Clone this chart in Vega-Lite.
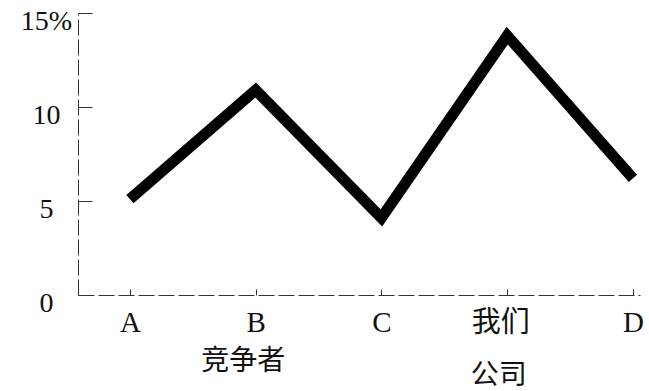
{
  "$schema": "https://vega.github.io/schema/vega-lite/v6.json",
  "width": 562,
  "height": 282,
  "autosize": {"type": "none"},
  "padding": {"left": 78, "top": 13, "right": 9, "bottom": 96},
  "background": "white",
  "config": {"view": {"stroke": null}},
  "data": {
    "values": [
      {"company": "A", "share": 5.1},
      {"company": "B", "share": 10.9},
      {"company": "C", "share": 4.1},
      {"company": "我们", "share": 13.8},
      {"company": "D", "share": 6.2}
    ]
  },
  "layer": [
    {
      "mark": {"type": "line", "color": "black", "strokeWidth": 11, "strokeJoin": "miter", "strokeCap": "butt"},
      "encoding": {
        "x": {
          "field": "company",
          "type": "ordinal",
          "sort": null,
          "scale": {"type": "point", "padding": 0.2346, "align": 0.88},
          "axis": {
            "title": null,
            "orient": "bottom",
            "labelAngle": 0,
            "labelBaseline": "top",
            "labelFont": "Liberation Serif, Noto Sans CJK SC",
            "labelFontSize": 29,
            "labelColor": "#111",
            "labelPadding": 19,
            "labelOffset": {"condition": {"test": "datum.label == '我们'", "value": -7}, "value": 0},
            "tickSize": -6,
            "tickColor": "#333",
            "domainColor": "#333",
            "domainWidth": 1,
            "domainDash": [16, 4],
            "grid": false,
            "labelOverlap": false,
            "labelBound": false
          }
        },
        "y": {
          "field": "share",
          "type": "quantitative",
          "scale": {"domain": [0, 15], "nice": false, "zero": true},
          "axis": {
            "title": null,
            "values": [0, 5, 10, 15],
            "labelExpr": "datum.value == 15 ? '15%' : datum.label",
            "labelFont": "Liberation Serif",
            "labelFontSize": 28,
            "labelColor": "#111",
            "labelAlign": "center",
            "labelPadding": 46,
            "labelOffset": 8,
            "labelFlush": false,
            "labelOverlap": false,
            "tickSize": -14,
            "tickColor": "#333",
            "domainColor": "#333",
            "domainWidth": 1,
            "domainDash": [16, 4],
            "grid": false
          }
        }
      }
    },
    {
      "mark": {"type": "point", "opacity": 0},
      "encoding": {
        "x": {
          "field": "company",
          "type": "ordinal",
          "sort": null,
          "axis": {
            "title": null,
            "orient": "bottom",
            "domain": false,
            "ticks": false,
            "labelAngle": 0,
            "labelBaseline": "top",
            "labelFont": "Noto Sans CJK SC",
            "labelFontSize": 28,
            "labelColor": "#111",
            "labelExpr": "datum.label == 'B' ? '竞争者' : (datum.label == '我们' ? '公司' : '')",
            "labelPadding": {"condition": {"test": "datum.label == 'B'", "value": 52}, "value": 66},
            "labelOffset": {"condition": {"test": "datum.label == 'B'", "value": -13}, "value": -9},
            "grid": false,
            "labelOverlap": false,
            "labelBound": false
          }
        }
      }
    }
  ],
  "resolve": {"axis": {"x": "independent"}}
}
